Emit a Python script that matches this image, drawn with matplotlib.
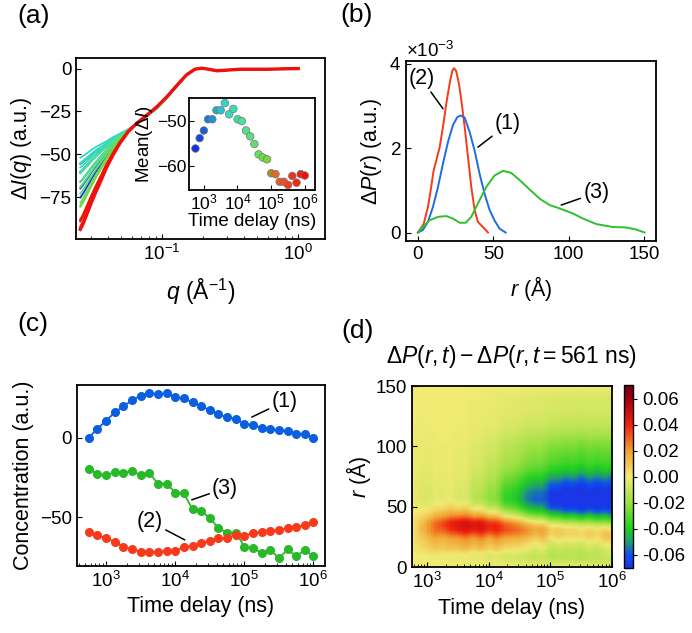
"""
Four-panel figure: scattering difference curves, pair distance distributions,
component concentrations and the difference map vs. time delay
"""
import numpy as np
import matplotlib
matplotlib.use('Agg')
import matplotlib.pyplot as plt
from matplotlib.colors import LinearSegmentedColormap
from matplotlib.ticker import FuncFormatter, NullFormatter

plt.rcParams['font.family'] = ['Liberation Sans', 'DejaVu Sans']
plt.rcParams['mathtext.fontset'] = 'custom'
plt.rcParams['mathtext.rm'] = 'Liberation Sans'
plt.rcParams['mathtext.it'] = 'Liberation Sans:italic'
plt.rcParams['mathtext.bf'] = 'Liberation Sans:bold'
plt.rcParams['axes.linewidth'] = 1.3
plt.rcParams['xtick.direction'] = 'in'
plt.rcParams['ytick.direction'] = 'in'

#%% ------------------------------- ###
###             0. Data             ###
### ------------------------------- ###

# time delays (ns), 27 points from 561 ns to 1 ms
t_ns = [561, 749, 1000, 1334, 1780, 2375, 3169, 4229, 5642, 7529, 10046, 13404,
        17886, 23865, 31843, 42490, 56695, 75649, 100941, 134689, 179719, 239804,
        319977, 426954, 569698, 760166, 1000000]

# inset: mean of Delta I per time delay
mean_dI = [-56.1, -53.8, -52.1, -49.6, -49.6, -47.6, -47.6, -46.0, -48.5, -47.3,
           -49.6, -50.0, -52.1, -53.4, -55.1, -57.4, -58.1, -58.5, -61.6, -61.8,
           -63.5, -63.5, -64.2, -62.2, -63.7, -61.8, -62.1]

# Delta I(q) for the earliest-peak (cyan) and latest (red) curves
q = [0.025, 0.0261, 0.0279, 0.0301, 0.0327, 0.0357, 0.0388, 0.0435, 0.0487, 0.0561,
     0.0646, 0.0766, 0.0908, 0.1076, 0.1276, 0.151, 0.174, 0.195, 0.219, 0.252,
     0.290, 0.375, 0.59, 1.0]
dI_late = [-93.7, -90.8, -85.0, -78.3, -71.5, -64.8, -58.0, -50.4, -43.7, -36.9,
           -32.1, -27.3, -22.5, -16.7, -10.0, -3.7, -0.4, 0.2, -0.4, -1.3,
           -1.0, -0.4, -0.4, 0.0]
dI_early = [-52.0, -51.0, -49.5, -47.5, -45.6, -44.0, -42.5, -40.0, -38.0, -35.5,
            -32.5, -28.0, -23.5, -17.5, -10.5, -3.5, -0.4, 0.2, -0.4, -1.3,
            -1.0, -0.4, -0.4, 0.0]

# pair distance distributions (x 1e-3)
r1 = [0, 3.3, 6.6, 10, 13.3, 16.6, 19.9, 23.2, 26.1, 28.3, 31, 34.3, 37.6, 40.9,
      44.2, 47.6, 50.9, 54.2, 58.2]
P1 = [0, 0.06, 0.25, 0.61, 1.08, 1.63, 2.14, 2.54, 2.73, 2.77, 2.72, 2.38, 1.94,
      1.39, 0.92, 0.53, 0.28, 0.09, 0]
r2 = [0, 3.8, 6.6, 8.8, 10.4, 12.2, 14.4, 16.6, 18.8, 21, 22.8, 23.9, 25.4, 27.2,
      28.8, 31, 33.2, 35.4, 37.6, 39.8, 43.1, 46.5]
P2 = [0, 0.2, 0.6, 1.08, 1.47, 1.71, 2.02, 2.5, 3.05, 3.52, 3.83, 3.89, 3.82, 3.52,
      3.13, 2.5, 1.79, 1.08, 0.53, 0.25, 0.13, 0]
r3 = [0, 3.3, 7.7, 13.3, 18.8, 23.2, 27.7, 31.6, 35.4, 39.8, 45.4, 50.9, 56.4, 61.9,
      67.5, 74.1, 80.8, 87.4, 94, 102.9, 109.5, 118.4, 129.4, 138.3, 144.9, 150.4]
P3 = [0, 0.13, 0.29, 0.37, 0.39, 0.33, 0.23, 0.23, 0.37, 0.69, 1.08, 1.35, 1.46,
      1.41, 1.24, 1.02, 0.8, 0.65, 0.57, 0.45, 0.33, 0.2, 0.13, 0.12, 0.07, 0]

# concentrations
c1 = [0, 5.4, 10.5, 15.7, 19.5, 23.4, 26.2, 27.8, 27.0, 27.8, 25.1, 24.7, 22.0,
      19.5, 17.2, 14.6, 12.6, 11.7, 8.4, 7.9, 5.9, 5.4, 4.4, 4.2, 2.3, 2.3, 0]
c2 = [-59.4, -61.1, -63.2, -65.3, -68.4, -70.1, -71.5, -71.5, -72.0, -70.9, -70.9,
      -68.8, -67.8, -66.3, -64.6, -63.2, -63.2, -61.1, -61.5, -60.0, -59.0, -58.4,
      -57.9, -56.9, -56.3, -54.8, -52.7]
c3 = [-19.9, -22.8, -23.8, -21.8, -22.4, -20.7, -23.8, -22.4, -28.9, -29.1, -34.5,
      -35.1, -45.0, -46.2, -50.4, -56.9, -59.6, -59.6, -68.4, -69.0, -72.6, -70.5,
      -75.7, -70.1, -74.3, -70.5, -74.3]

blue, red, green = '#0a5ee0', '#f63a1a', '#28b828'
tcmap = LinearSegmentedColormap.from_list(
    'tdelay', [(0, '#1530e0'), (0.27, '#30d8c8'), (0.45, '#50e090'),
               (0.65, '#70e040'), (0.69, '#b09020'), (0.74, '#f06020'),
               (1, '#f01010')])
# jet-like map with yellow at zero
dcmap = LinearSegmentedColormap.from_list(
    'dmap', [(0, '#1a36e6'), (0.071, '#1050f0'), (0.143, '#20a070'),
             (0.214, '#20d020'), (0.357, '#9ae040'), (0.5, '#f2ea74'),
             (0.643, '#f0a030'), (0.786, '#f02010'), (0.929, '#a00010'),
             (1, '#700018')])

fs_tick, fs_lab = 13.5, 15.5

fig = plt.figure(figsize=(6.92, 6.33), dpi=100)

#%% ------------------------------- ###
###            1. Panel a           ###
### ------------------------------- ###

ax = fig.add_axes([0.110, 0.622, 0.360, 0.286])
n = len(t_ns)
cols = [tcmap(i / (n - 1)) for i in range(n)]
mn, mx = min(mean_dI), max(mean_dI)
late, early = np.array(dI_late), np.array(dI_early)
for i in range(n):
    w = (mean_dI[i] - mn) / (mx - mn)
    ax.plot(q, late + w * (early - late), color=cols[i], lw=1.3)
ax.plot(q, dI_late, color='#f01010', lw=2.4)
ax.set_xscale('log')
ax.set_xlim(0.0233, 1.58)
ax.set_ylim(-99.5, 6)
ax.set_yticks([0, -25, -50, -75])
ax.set_xticks([0.1, 1])
ax.tick_params(labelsize=fs_tick, top=False, right=False)
ax.set_xlabel(r'$q$ (Å$^{-1}$)', fontsize=fs_lab + 1, labelpad=9)
ax.set_ylabel(r'$\Delta I(q)$ (a.u.)', fontsize=fs_lab)

ins = fig.add_axes([0.273, 0.700, 0.182, 0.145])
ins.scatter(t_ns, mean_dI, c=cols, s=30, edgecolors='#777777', linewidths=0.5, zorder=3)
ins.set_xscale('log')
ins.set_xlim(359, 2.0e6)
ins.set_ylim(-65.3, -44.9)
ins.set_yticks([-50, -60])
ins.set_xticks([1e3, 1e4, 1e5, 1e6])
ins.xaxis.set_minor_formatter(NullFormatter())
ins.tick_params(labelsize=12.5, pad=2)
ins.tick_params(axis='x', which='both', top=False)
ins.set_xlabel('Time delay (ns)', fontsize=13.5, labelpad=0)
ins.set_ylabel(r'Mean($\Delta I$)', fontsize=13.5, labelpad=1)

#%% ------------------------------- ###
###            2. Panel b           ###
### ------------------------------- ###

ax = fig.add_axes([0.587, 0.619, 0.361, 0.284])
ax.plot(r2, np.array(P2) * 1e-3, color=red, lw=1.4)
ax.plot(r1, np.array(P1) * 1e-3, color='#1a6fe0', lw=1.4)
ax.plot(r3, np.array(P3) * 1e-3, color='#2ec02e', lw=1.4)
ax.set_xlim(-7.8, 158)
ax.set_ylim(-0.205e-3, 4.05e-3)
ax.set_xticks([0, 50, 100, 150])
ax.set_yticks([0, 2e-3, 4e-3])
ax.ticklabel_format(axis='y', style='sci', scilimits=(0, 0), useMathText=True)
ax.yaxis.get_offset_text().set_fontsize(fs_tick)
ax.tick_params(labelsize=fs_tick)
ax.set_xlabel(r'$r$ (Å)', fontsize=fs_lab, labelpad=8)
ax.set_ylabel(r'$\Delta P(r)$ (a.u.)', fontsize=fs_lab)
lk = dict(arrowprops=dict(arrowstyle='-', color='black', lw=1.1, shrinkA=0, shrinkB=0),
          fontsize=fs_lab, ha='center', va='center')
ax.annotate('(2)', xy=(16.6, 2.93e-3), xytext=(2.2, 3.64e-3), **lk)
ax.annotate('(1)', xy=(39.8, 2.02e-3), xytext=(59.7, 2.57e-3), **lk)
ax.annotate('(3)', xy=(95.1, 0.65e-3), xytext=(118.4, 0.94e-3), **lk)

#%% ------------------------------- ###
###            3. Panel c           ###
### ------------------------------- ###

ax = fig.add_axes([0.111, 0.106, 0.358, 0.286])
mk = dict(marker='o', ms=5.5, lw=1.3)
ax.plot(t_ns, c1, color=blue, **mk)
ax.plot(t_ns, c3, color=green, **mk)
ax.plot(t_ns, c2, color=red, **mk)
ax.set_xscale('log')
ax.set_xlim(377, 1.46e6)
ax.set_ylim(-80.5, 33)
ax.set_yticks([0, -50])
ax.set_xticks([1e3, 1e4, 1e5, 1e6])
ax.xaxis.set_minor_formatter(NullFormatter())
ax.tick_params(labelsize=fs_tick)
ax.set_xlabel('Time delay (ns)', fontsize=fs_lab)
ax.set_ylabel('Concentration (a.u.)', fontsize=fs_lab)
ax.annotate('(1)', xy=(1.29e5, 12.8), xytext=(3.85e5, 22.6), **lk)
ax.annotate('(3)', xy=(1.74e4, -39.1), xytext=(5.3e4, -31.8), **lk)
ax.annotate('(2)', xy=(1.38e4, -64.2), xytext=(4.3e3, -52.7), **lk)

#%% ------------------------------- ###
###            4. Panel d           ###
### ------------------------------- ###

ax = fig.add_axes([0.595, 0.104, 0.289, 0.286])
r_grid = np.linspace(0, 150, 301)
basis = np.vstack([np.interp(r_grid, r1, P1), np.interp(r_grid, r2, P2),
                   np.interp(r_grid, r3, P3)]) * 1e-3
conc = np.vstack([c1, c2, c3])
dconc = conc - conc[:, :1]
field = basis.T @ dconc
pm = ax.pcolormesh(t_ns, r_grid, field, cmap=dcmap, vmin=-0.07, vmax=0.07,
                   shading='gouraud', rasterized=True)
ax.set_xscale('log')
ax.set_xlim(561, 1e6)
ax.set_ylim(0, 150)
ax.set_yticks([0, 50, 100, 150])
ax.set_xticks([1e3, 1e4, 1e5, 1e6])
ax.xaxis.set_minor_formatter(NullFormatter())
ax.tick_params(labelsize=fs_tick)
ax.set_xlabel('Time delay (ns)', fontsize=fs_lab)
ax.set_ylabel(r'$r$ (Å)', fontsize=fs_lab, labelpad=2)
ax.set_title(r'$\Delta P(r, t) - \Delta P(r, t = 561\ \mathrm{ns})$', fontsize=16.5, pad=17)

cax = fig.add_axes([0.902, 0.103, 0.013, 0.288])
cb = fig.colorbar(pm, cax=cax)
cb.set_ticks([0.06, 0.04, 0.02, 0, -0.02, -0.04, -0.06])
cb.ax.yaxis.set_major_formatter(FuncFormatter(lambda v, p: '%.2f' % v))
cb.ax.tick_params(labelsize=fs_tick, direction='out', length=3)
cb.outline.set_linewidth(1.0)

# panel letters
for x, y, s in [(0.025, 0.975, '(a)'), (0.492, 0.976, '(b)'),
                (0.025, 0.488, '(c)'), (0.494, 0.477, '(d)')]:
    fig.text(x, y, s, fontsize=19, ha='left', va='center')

fig.savefig('out.png', dpi=100)
